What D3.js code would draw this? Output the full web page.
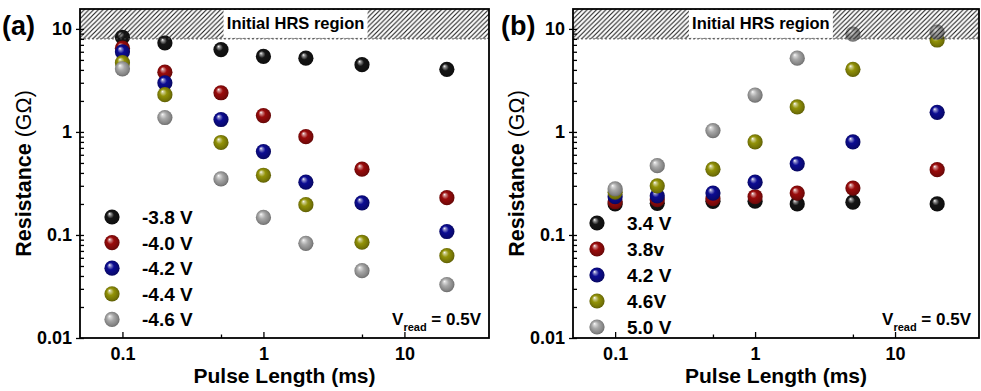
<!DOCTYPE html>
<html>
<head>
<meta charset="utf-8">
<script src="https://cdn.jsdelivr.net/npm/d3@7/dist/d3.min.js"></script>
<style>
  html, body { margin: 0; padding: 0; background: #fff; }
  svg { display: block; }
  text { font-family: "Liberation Sans", Arial, sans-serif; }
</style>
</head>
<body>
<svg id="chart" width="981" height="391"></svg>
<script>
// Pulse lengths (ms) shared by both panels
const pulseLength = [0.1, 0.2, 0.5, 1, 2, 5, 20];

// Panel (a): RESET pulses, resistance in GΩ
const resetLabels = ["-3.8 V", "-4.0 V", "-4.2 V", "-4.4 V", "-4.6 V"];
const reset38 = [8.3, 7.3, 6.3, 5.4, 5.2, 4.5, 4.05];
const reset40 = [6.5, 3.8, 2.4, 1.44, 0.9, 0.435, 0.23];
const reset42 = [6.0, 3.0, 1.32, 0.645, 0.325, 0.205, 0.108];
const reset44 = [4.7, 2.3, 0.79, 0.38, 0.197, 0.085, 0.063];
const reset46 = [4.1, 1.38, 0.35, 0.148, 0.083, 0.045, 0.033];

// Panel (b): SET pulses, resistance in GΩ
const setLabels = ["3.4 V", "3.8v", "4.2 V", "4.6V", "5.0 V"];
const set34 = [0.2, 0.203, 0.212, 0.213, 0.2, 0.208, 0.2];
const set38 = [0.21, 0.22, 0.225, 0.235, 0.255, 0.285, 0.43];
const set42 = [0.235, 0.24, 0.255, 0.325, 0.49, 0.80, 1.55];
const set46 = [0.26, 0.30, 0.435, 0.80, 1.75, 4.05, 7.8];
const set50 = [0.28, 0.47, 1.03, 2.28, 5.2, 8.9, 9.3];

// Axis ticks
const xMajorTicks = [0.1, 1, 10];
const xMinorTicks = [0.5, 5];
const yMajorTicks = [0.01, 0.1, 1, 10];
const hrsFloor = 8; // lower bound of the initial HRS band (GΩ)

const sphereColors = ["#151515", "#9a0b0b", "#0c0c92", "#929208", "#a8a8a8"];

const svg = d3.select("#chart");
svg.append("rect").attr("width", 981).attr("height", 391).attr("fill", "#fff");

const defs = svg.append("defs");

// Shaded sphere look for each series colour
sphereColors.forEach((c, i) => {
  const base = d3.color(c);
  const g = defs.append("radialGradient")
    .attr("id", "ball" + i)
    .attr("cx", "0.5").attr("cy", "0.5").attr("r", "0.55")
    .attr("fx", "0.33").attr("fy", "0.28");
  g.append("stop").attr("offset", "0").attr("stop-color", "#ffffff");
  g.append("stop").attr("offset", "0.14").attr("stop-color", d3.interpolateRgb(c, "#ffffff")(0.55));
  g.append("stop").attr("offset", "0.42").attr("stop-color", base.formatHex());
  g.append("stop").attr("offset", "0.8").attr("stop-color", base.darker(0.7).formatHex());
  g.append("stop").attr("offset", "1").attr("stop-color", base.darker(1.6).formatHex());
});

// Diagonal hatching for the initial HRS band
const hatch = defs.append("pattern")
  .attr("id", "hatch").attr("patternUnits", "userSpaceOnUse")
  .attr("width", 4.7).attr("height", 4.7);
hatch.append("path")
  .attr("d", "M-1,1 l2,-2 M0,4.7 l4.7,-4.7 M3.7,5.7 l2,-2")
  .attr("stroke", "#1a1a1a").attr("stroke-width", 1.1);

const yDomain = [0.01, 15.6];
const xDomain = [0.05, 39.8];
const plotTop = 9, plotBottom = 338;

const panels = [
  { tag: "(a)", left: 80, right: 489, tagX: 2, labels: resetLabels,
    series: [reset38, reset40, reset42, reset44, reset46],
    legendX: 112, legendY: 217, legendStep: 25.6, bandLabelAt: 1.69 },
  { tag: "(b)", left: 573, right: 979, tagX: 501, labels: setLabels,
    series: [set34, set38, set42, set46, set50],
    legendX: 597, legendY: 223, legendStep: 26, bandLabelAt: 1.1 }
];

panels.forEach((p, pi) => {
  const x = d3.scaleLog().domain(xDomain).range([p.left, p.right]);
  const y = d3.scaleLog().domain(yDomain).range([plotBottom, plotTop]);
  const g = svg.append("g");

  const clipId = "clip" + pi;
  defs.append("clipPath").attr("id", clipId)
    .append("rect").attr("x", p.left).attr("y", plotTop)
    .attr("width", p.right - p.left).attr("height", plotBottom - plotTop);

  // data spheres
  const marks = g.append("g").attr("clip-path", `url(#${clipId})`);
  p.series.forEach((vals, si) => {
    marks.append("g").selectAll("circle")
      .data(vals.map((v, k) => ({ x: pulseLength[k], y: v })))
      .join("circle")
      .attr("cx", d => x(d.x)).attr("cy", d => y(d.y))
      .attr("r", 7.6)
      .attr("fill", `url(#ball${si})`);
  });

  // initial HRS band, hatched over the markers
  const bandY = y(hrsFloor);
  g.append("rect")
    .attr("x", p.left).attr("y", plotTop)
    .attr("width", p.right - p.left).attr("height", bandY - plotTop)
    .attr("fill", "url(#hatch)");
  g.append("line")
    .attr("x1", p.left).attr("x2", p.right).attr("y1", bandY).attr("y2", bandY)
    .attr("stroke", "#444").attr("stroke-width", 0.9).attr("stroke-dasharray", "2,2");
  const bx = x(p.bandLabelAt);
  g.append("rect")
    .attr("x", bx - 72).attr("y", plotTop + 1)
    .attr("width", 144).attr("height", bandY - plotTop - 2)
    .attr("fill", "#fff");
  g.append("text")
    .attr("x", bx).attr("y", (plotTop + bandY) / 2 + 5.5)
    .attr("text-anchor", "middle")
    .attr("font-size", 16.5).attr("font-weight", "bold")
    .text("Initial HRS region");

  // axes
  const fmt = d => (d >= 1 ? d3.format("d")(d) : String(d));
  const xAxis = g.append("g").attr("transform", `translate(0,${plotBottom})`)
    .call(d3.axisBottom(x).tickValues(xMajorTicks).tickFormat(fmt)
      .tickSize(-6).tickPadding(9));
  g.append("g").attr("transform", `translate(0,${plotBottom})`)
    .call(d3.axisBottom(x).tickValues(xMinorTicks).tickFormat("").tickSize(-3.5))
    .call(a => a.select(".domain").remove());

  const yMinor = [];
  [0.01, 0.1, 1, 10].forEach(dec => {
    for (let m = 2; m <= 9; m++) { const v = dec * m; if (v <= yDomain[1]) yMinor.push(v); }
  });
  const yAxis = g.append("g").attr("transform", `translate(${p.left},0)`)
    .call(d3.axisLeft(y).tickValues(yMajorTicks).tickFormat(fmt)
      .tickSize(4).tickPadding(4));
  g.append("g").attr("transform", `translate(${p.left},0)`)
    .call(d3.axisLeft(y).tickValues(yMinor.concat(yMajorTicks)).tickFormat("").tickSize(-4))
    .call(a => a.select(".domain").remove());

  [xAxis, yAxis].forEach(a => {
    a.selectAll("text")
      .attr("font-family", '"Liberation Sans", Arial, sans-serif')
      .attr("font-size", 18).attr("font-weight", "bold").attr("fill", "#000");
    a.select(".domain").remove();
  });
  g.selectAll(".tick line").attr("stroke", "#000").attr("stroke-width", 1.3);

  // frame
  g.append("rect")
    .attr("x", p.left).attr("y", plotTop)
    .attr("width", p.right - p.left).attr("height", plotBottom - plotTop)
    .attr("fill", "none").attr("stroke", "#000").attr("stroke-width", 1.8);

  // axis titles
  g.append("text")
    .attr("x", (p.left + p.right) / 2).attr("y", 383)
    .attr("text-anchor", "middle")
    .attr("font-size", 21).attr("font-weight", "bold")
    .text("Pulse Length (ms)");
  const yt = g.append("text")
    .attr("transform", `translate(${p.left - 49},${(plotTop + plotBottom) / 2}) rotate(-90)`)
    .attr("text-anchor", "middle")
    .attr("font-size", 21.5);
  yt.append("tspan").attr("font-weight", "bold").text("Resistance");
  yt.append("tspan").text(" (GΩ)");

  // panel tag
  g.append("text")
    .attr("x", p.tagX).attr("y", 35)
    .attr("font-size", 27).attr("font-weight", "bold")
    .text(p.tag);

  // read voltage note
  const note = g.append("text")
    .attr("x", p.right - 8).attr("y", 325)
    .attr("text-anchor", "end")
    .attr("font-size", 17).attr("font-weight", "bold");
  note.append("tspan").text("V");
  note.append("tspan").attr("font-size", 11).attr("dy", 6).text("read");
  note.append("tspan").attr("dy", -6).text(" = 0.5V");

  // legend
  const lg = g.append("g");
  p.labels.forEach((lab, i) => {
    const ly = p.legendY + i * p.legendStep;
    lg.append("circle").attr("cx", p.legendX).attr("cy", ly).attr("r", 7.6)
      .attr("fill", `url(#ball${i})`);
    lg.append("text").attr("x", p.legendX + 30).attr("y", ly + 7)
      .attr("font-size", 19).attr("font-weight", "bold").text(lab);
  });
});
</script>
</body>
</html>
